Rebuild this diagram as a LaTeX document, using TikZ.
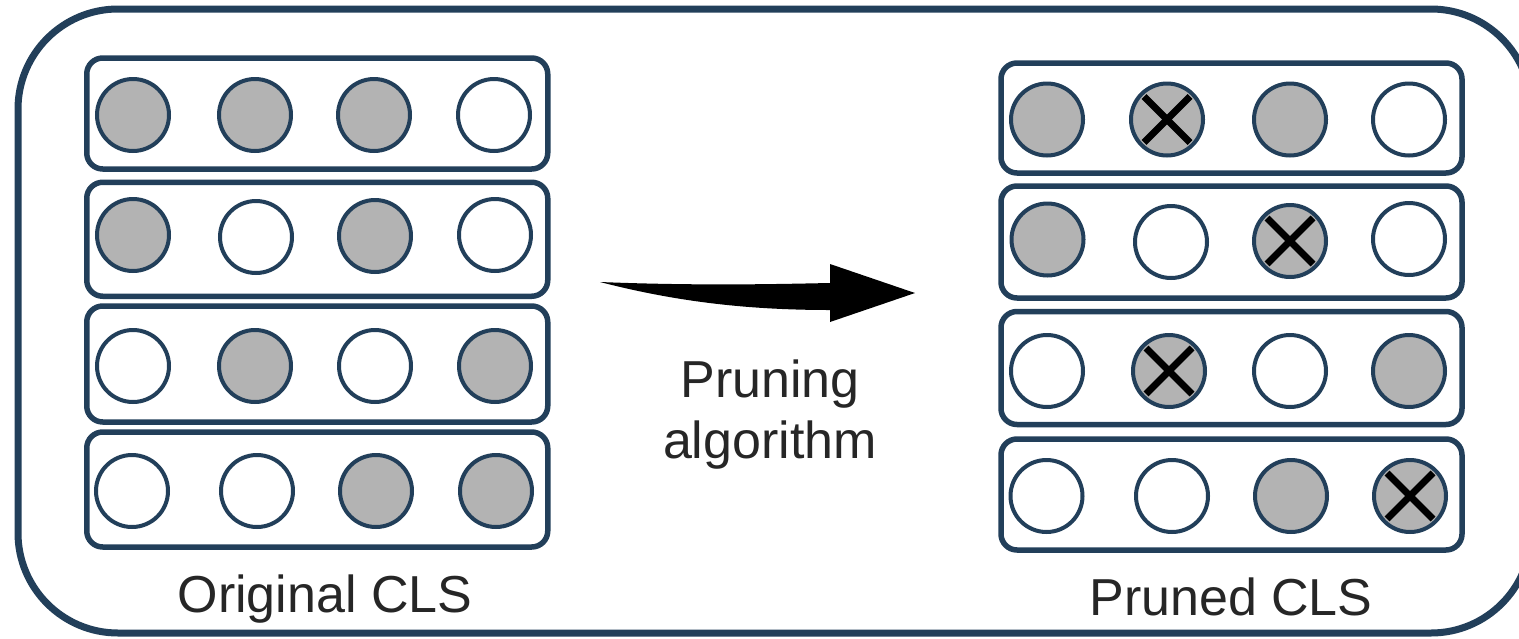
\documentclass[tikz,border=0pt]{standalone}
\usepackage{fontspec}
\setmainfont{Liberation Sans}
\definecolor{navy}{RGB}{34,63,90}
\definecolor{unitgray}{RGB}{179,179,179}
\definecolor{inkgray}{RGB}{38,38,38}
\begin{document}
\begin{tikzpicture}[x=1pt,y=-1pt,
  frame/.style={draw=navy, line width=7pt, rounded corners=100pt, inner sep=0pt},
  rowbox/.style={draw=navy, line width=5.5pt, rounded corners=16pt, inner sep=0pt,
    minimum width=461pt},
  unit/.style={circle, draw=navy, line width=4pt, minimum size=72pt, inner sep=0pt, fill=white},
  on/.style={unit, fill=unitgray},
  cutmark/.style={draw=black, line width=7pt},
  caption/.style={text=inkgray, font=\fontsize{52}{62}\selectfont, inner sep=0pt, anchor=base}
]
\useasboundingbox (0,0) rectangle (1519,638);
\clip (0,0) rectangle (1519,638);

% outer frame
\node[frame, minimum width=1513pt, minimum height=624pt] (frame) at (774.5,321) {};

% left: original rows
\node[rowbox, minimum height=111pt] (L1) at (317.25,113.5) {};
\node[rowbox, minimum height=114pt] (L2) at (317.25,239.25) {};
\node[rowbox, minimum height=116pt] (L3) at (317.25,364) {};
\node[rowbox, minimum height=115pt] (L4) at (317.25,489.5) {};

\node[on]   (l11) at (133,115) {};
\node[on]   (l12) at (255,115) {};
\node[on]   (l13) at (374,115) {};
\node[unit] (l14) at (494,115) {};

\node[on]   (l21) at (133,235) {};
\node[unit] (l22) at (256,237) {};
\node[on]   (l23) at (375,236) {};
\node[unit] (l24) at (495,235) {};

\node[unit] (l31) at (133,366) {};
\node[on]   (l32) at (255,366) {};
\node[unit] (l33) at (375,366) {};
\node[on]   (l34) at (495,366) {};

\node[unit] (l41) at (132,491) {};
\node[unit] (l42) at (257,491) {};
\node[on]   (l43) at (376,491) {};
\node[on]   (l44) at (496,491) {};

% right: pruned rows
\node[rowbox, minimum height=110pt] (R1) at (1231.5,118) {};
\node[rowbox, minimum height=112pt] (R2) at (1231.5,242) {};
\node[rowbox, minimum height=113pt] (R3) at (1231.5,368) {};
\node[rowbox, minimum height=111pt] (R4) at (1231.5,494.5) {};

\node[on]   (r11) at (1047,119.5) {};
\node[on]   (r12) at (1167,119.5) {};
\node[on]   (r13) at (1290,119.5) {};
\node[unit] (r14) at (1409,119.5) {};

\node[on]   (r21) at (1047.5,239.5) {};
\node[unit] (r22) at (1171,242) {};
\node[on]   (r23) at (1290,241) {};
\node[unit] (r24) at (1409,239) {};

\node[unit] (r31) at (1047,371) {};
\node[on]   (r32) at (1169,371) {};
\node[unit] (r33) at (1290,371) {};
\node[on]   (r34) at (1409,371) {};

\node[unit] (r41) at (1046.5,496) {};
\node[unit] (r42) at (1172,496) {};
\node[on]   (r43) at (1291,496) {};
\node[on]   (r44) at (1410,496) {};

% crosses on the pruned units
\foreach \u in {r12,r23,r32,r44}{
  \draw[cutmark] ([shift={(-23,-23)}]\u.center) -- ([shift={(23,23)}]\u.center);
  \draw[cutmark] ([shift={(-23,23)}]\u.center) -- ([shift={(23,-23)}]\u.center);
}

% curved block arrow
\coordinate (tail) at (600,282);
\coordinate (tip) at (915,293);
\fill[black] (tail) .. controls (700,286) and (780,284) .. (830,283)
  -- (830,264) -- (tip) -- (830,322) -- (830,310)
  .. controls (740,310) and (670,300) .. (tail) -- cycle;

% labels
\node[caption] (prune1) at (770,397) {Pruning};
\node[caption] (prune2) at (770,458) {algorithm};
\node[caption] (orig) at (325,612) {Original CLS};
\node[caption] (pruned) at (1231,615) {Pruned CLS};
\end{tikzpicture}
\end{document}
